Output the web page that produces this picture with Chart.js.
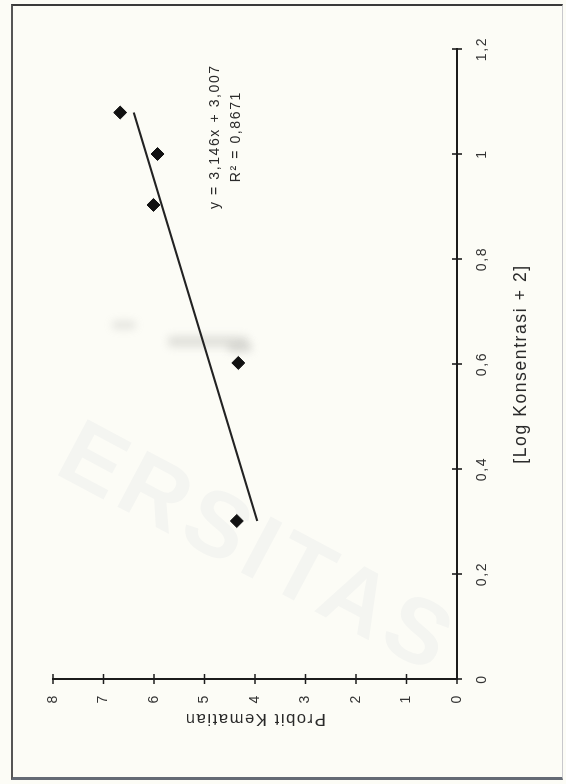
<!DOCTYPE html>
<html>
<head>
<meta charset="utf-8">
<script src="https://cdn.jsdelivr.net/npm/chart.js@4.4.1/dist/chart.umd.min.js"></script>
<style>
  html, body { margin: 0; padding: 0; }
  body { width: 566px; height: 784px; overflow: hidden; background: #fcfcf6; position: relative; font-family: Arial, "Liberation Sans", sans-serif; }
  #frame { position: absolute; left: 11px; top: 4px; width: 549px; height: 771px;
           border-left: 2px solid #555; border-top: 2px solid #3a3a3a; border-bottom: 3px solid #646a74; border-right: 1px solid #c8c8cc; }
  .mark { position: absolute; color: rgba(110,120,165,0.055); font-weight: bold; font-size: 92px; letter-spacing: 6px;
          transform-origin: 0 0; white-space: nowrap; pointer-events: none; }
  .smudge { position: absolute; background: #a4a4a0; filter: blur(4px); border-radius: 4px; }
  #wrap { position: absolute; left: 0; top: 0; width: 784px; height: 566px;
          transform-origin: 0 0; transform: translateY(784px) rotate(-90deg); }
</style>
</head>
<body>
<div id="frame"></div>
<div class="mark" style="left:92px; top:398px; transform: rotate(28deg);">ERSITAS</div>
<div class="smudge" style="left:112px; top:321px; width:24px; height:8px; opacity:0.28;"></div>
<div class="smudge" style="left:168px; top:336px; width:80px; height:11px; opacity:0.32;"></div>
<div class="smudge" style="left:228px; top:343px; width:24px; height:9px; opacity:0.35;"></div>
<div id="wrap"><canvas id="c" width="784" height="566"></canvas></div>
<script>
// Probit analysis: log concentration (+2) against probit mortality
const logConc = [0.301, 0.602, 0.903, 1.0, 1.079];
const probit  = [4.36, 4.33, 6.01, 5.93, 6.67];

// Linear trend reported on the chart
const slope = 3.146;
const intercept = 3.007;
const rSquared = 0.8671;

const xTickValues = [0, 0.2, 0.4, 0.6, 0.8, 1, 1.2];
const xTickLabels = ['0', '0,2', '0,4', '0,6', '0,8', '1', '1,2'];
const yTickValues = [0, 1, 2, 3, 4, 5, 6, 7, 8];

const fmt = (v, d) => v.toFixed(d).replace('.', ',');
const eqText = 'y = ' + fmt(slope, 3) + 'x + ' + fmt(intercept, 3);
const r2Text = 'R\u00B2 = ' + fmt(rSquared, 4);

const points = logConc.map((x, i) => ({ x: x, y: probit[i] }));
const xStart = logConc[0], xEnd = logConc[logConc.length - 1];
const trend = [
  { x: xStart, y: slope * xStart + intercept },
  { x: xEnd,   y: slope * xEnd + intercept }
];

const ink = '#1c1c1c';

// spaced-out lettering like the printed figure
const spacing = {
  id: 'spacing',
  beforeDraw(chart) { chart.ctx.letterSpacing = '1.6px'; }
};

// tick marks that cross the axis lines
const crossTicks = {
  id: 'crossTicks',
  afterDraw(chart) {
    const { ctx, chartArea, scales } = chart;
    ctx.save();
    ctx.strokeStyle = ink;
    ctx.lineWidth = 1.6;
    ctx.beginPath();
    xTickValues.forEach(v => {
      const px = scales.x.getPixelForValue(v);
      ctx.moveTo(px, chartArea.bottom - 5);
      ctx.lineTo(px, chartArea.bottom + 5);
    });
    yTickValues.forEach(v => {
      const py = scales.y.getPixelForValue(v);
      ctx.moveTo(chartArea.left - 5, py);
      ctx.lineTo(chartArea.left + 5, py);
    });
    ctx.stroke();
    ctx.restore();
  }
};

// regression equation and R squared beside the trend line
const trendLabel = {
  id: 'trendLabel',
  afterDraw(chart) {
    const { ctx, scales } = chart;
    const cx = scales.x.getPixelForValue(1.033);
    ctx.save();
    ctx.letterSpacing = '1.6px';
    ctx.fillStyle = '#2a2a2a';
    ctx.font = '14px Arial, "Liberation Sans", sans-serif';
    ctx.textAlign = 'center';
    ctx.textBaseline = 'middle';
    ctx.fillText(eqText, cx, scales.y.getPixelForValue(4.78));
    ctx.fillText(r2Text, cx, scales.y.getPixelForValue(4.38));
    ctx.restore();
  }
};

new Chart(document.getElementById('c'), {
  type: 'scatter',
  data: {
    datasets: [
      {
        label: 'Probit',
        data: points,
        pointStyle: 'rectRot',
        pointRadius: 6.5,
        backgroundColor: '#111',
        borderColor: '#111',
        borderWidth: 1,
        showLine: false,
        order: 1
      },
      {
        label: 'Linear',
        type: 'line',
        data: trend,
        borderColor: '#222',
        borderWidth: 2,
        pointRadius: 0,
        fill: false,
        order: 2
      }
    ]
  },
  options: {
    responsive: false,
    devicePixelRatio: 1,
    animation: false,
    layout: { padding: { left: 0, top: 53, right: 49, bottom: 0 } },
    plugins: { legend: { display: false }, tooltip: { enabled: false } },
    scales: {
      x: {
        type: 'linear',
        min: 0, max: 1.2,
        afterBuildTicks(scale) { scale.ticks = xTickValues.map(v => ({ value: v })); },
        afterFit(scale) { scale.height = 109; },
        grid: { display: false, drawTicks: false },
        border: { display: true, color: ink, width: 2 },
        ticks: {
          padding: 17,
          color: '#333',
          font: { family: 'Arial, "Liberation Sans", sans-serif', size: 14 },
          callback: (v, i) => xTickLabels[i]
        },
        title: {
          display: true,
          text: '[Log Konsentrasi + 2]',
          color: '#2a2a2a',
          font: { family: 'Arial, "Liberation Sans", sans-serif', size: 17.5 },
          padding: { top: 0, bottom: 34 }
        }
      },
      y: {
        type: 'linear',
        min: 0, max: 8,
        afterBuildTicks(scale) { scale.ticks = yTickValues.map(v => ({ value: v })); },
        afterFit(scale) { scale.width = 105; },
        grid: { display: false, drawTicks: false },
        border: { display: true, color: ink, width: 2 },
        ticks: {
          padding: 15,
          color: '#333',
          font: { family: 'Arial, "Liberation Sans", sans-serif', size: 14 },
          callback: v => String(v)
        },
        title: {
          display: true,
          text: 'Probit Kematian',
          color: '#2a2a2a',
          font: { family: 'Arial, "Liberation Sans", sans-serif', size: 16.5 },
          padding: { top: 56, bottom: 0 }
        }
      }
    }
  },
  plugins: [spacing, crossTicks, trendLabel]
});
</script>
</body>
</html>
